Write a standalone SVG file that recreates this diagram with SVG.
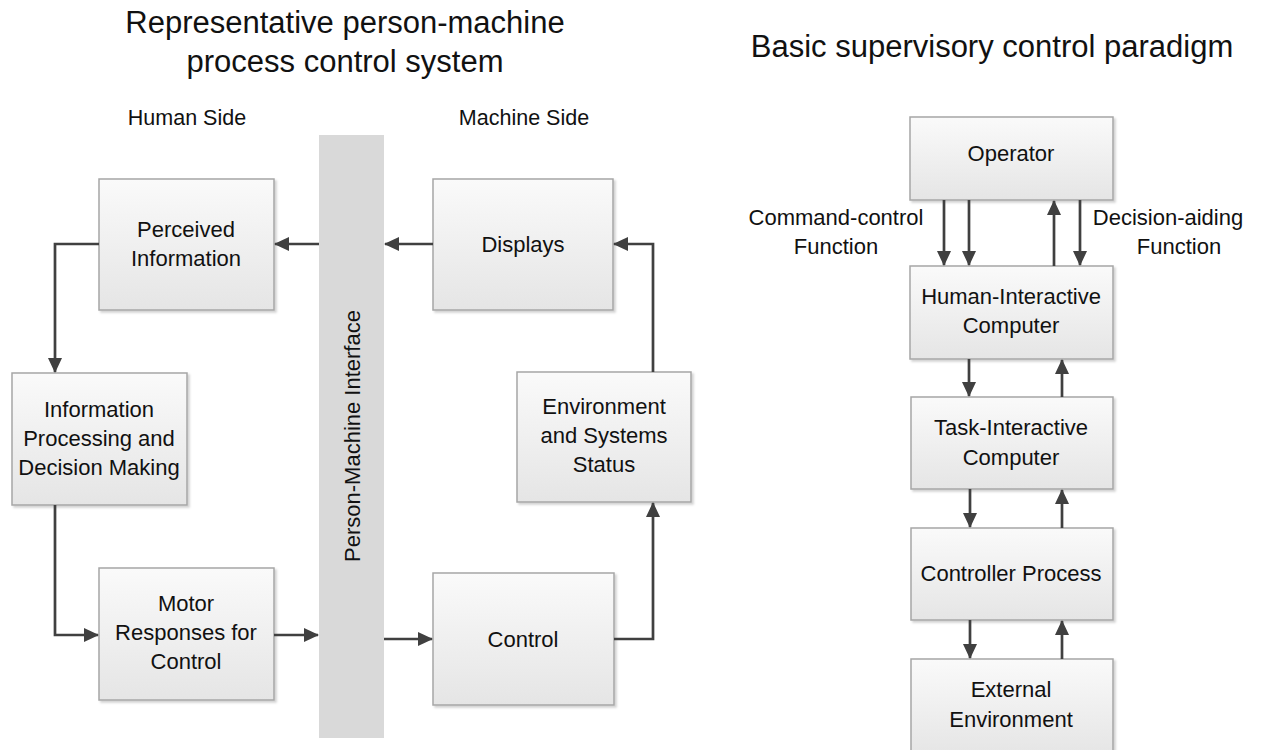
<svg xmlns="http://www.w3.org/2000/svg" width="1265" height="750" viewBox="0 0 1265 750">
<style>
text{font-family:"Liberation Sans","DejaVu Sans",sans-serif;fill:#111;text-anchor:middle}
.t{font-size:31px}
.h{font-size:21.5px}
.n{font-size:22px}
.box{fill:url(#g);stroke:#a6a6a6;stroke-width:1.5;filter:url(#sh)}
.c{fill:none;stroke:#404040;stroke-width:2.7;marker-end:url(#a)}
</style>
<defs>
<linearGradient id="g" x1="0" y1="0" x2="0" y2="1"><stop offset="0" stop-color="#fafafa"/><stop offset="1" stop-color="#e5e5e5"/></linearGradient>
<filter id="sh" x="-5%" y="-5%" width="115%" height="115%"><feDropShadow dx="2" dy="2" stdDeviation="1.2" flood-color="#000" flood-opacity="0.18"/></filter>
<marker id="a" viewBox="0 0 15 14" refX="14" refY="7" markerWidth="15" markerHeight="14" markerUnits="userSpaceOnUse" orient="auto"><path d="M0,0 L15,7 L0,14 z" fill="#404040"/></marker>
</defs>
<rect width="1265" height="750" fill="#fff"/>
<text class="t" x="345" y="33">Representative person-machine</text>
<text class="t" x="345" y="72">process control system</text>
<text class="t" x="992" y="57">Basic supervisory control paradigm</text>
<text class="h" x="187" y="125">Human Side</text>
<text class="h" x="524" y="125">Machine Side</text>
<g id="pmi"><rect x="319" y="135" width="65" height="603" fill="#d9d9d9"/><text class="n" transform="translate(360,436) rotate(-90)">Person-Machine Interface</text></g>
<g id="perceived"><rect class="box" x="99" y="179" width="175" height="131"/><text class="n" x="186" y="237">Perceived</text><text class="n" x="186" y="266">Information</text></g>
<g id="infoproc"><rect class="box" x="12" y="373" width="175" height="132"/><text class="n" x="99" y="417">Information</text><text class="n" x="99" y="446">Processing and</text><text class="n" x="99" y="475">Decision Making</text></g>
<g id="motor"><rect class="box" x="99" y="568" width="175" height="132"/><text class="n" x="186" y="611">Motor</text><text class="n" x="186" y="640">Responses for</text><text class="n" x="186" y="669">Control</text></g>
<g id="displays"><rect class="box" x="433" y="179" width="180" height="131"/><text class="n" x="523" y="252">Displays</text></g>
<g id="envstatus"><rect class="box" x="517" y="372" width="174" height="130"/><text class="n" x="604" y="414">Environment</text><text class="n" x="604" y="443">and Systems</text><text class="n" x="604" y="472">Status</text></g>
<g id="control"><rect class="box" x="433" y="573" width="181" height="132"/><text class="n" x="523" y="647">Control</text></g>
<g id="operator"><rect class="box" x="910" y="117" width="203" height="83"/><text class="n" x="1011" y="161">Operator</text></g>
<g id="hic"><rect class="box" x="910" y="266" width="203" height="93"/><text class="n" x="1011" y="304">Human-Interactive</text><text class="n" x="1011" y="333">Computer</text></g>
<g id="tic"><rect class="box" x="911" y="397" width="202" height="92"/><text class="n" x="1011" y="435">Task-Interactive</text><text class="n" x="1011" y="465">Computer</text></g>
<g id="cproc"><rect class="box" x="911" y="528" width="202" height="92"/><text class="n" x="1011" y="581">Controller Process</text></g>
<g id="extenv"><rect class="box" x="911" y="659" width="202" height="96"/><text class="n" x="1011" y="697">External</text><text class="n" x="1011" y="727">Environment</text></g>
<g id="labels"><text class="n" x="836" y="225">Command-control</text><text class="n" x="836" y="254">Function</text><text class="n" x="1168" y="225">Decision-aiding</text><text class="n" x="1179" y="254">Function</text></g>
<g id="connectors">
<path class="c" d="M319,244 H275"/>
<path class="c" d="M433,244 H385"/>
<path class="c" d="M99,244 H55 V372"/>
<path class="c" d="M55,505 V635 H98"/>
<path class="c" d="M274,635 H318"/>
<path class="c" d="M384,639 H432"/>
<path class="c" d="M614,639 H653 V503"/>
<path class="c" d="M653,372 V244 H614"/>
<path class="c" d="M944,200 V265"/>
<path class="c" d="M969,200 V265"/>
<path class="c" d="M1054,266 V201"/>
<path class="c" d="M1080,200 V265"/>
<path class="c" d="M969,359 V396"/>
<path class="c" d="M1062,397 V360"/>
<path class="c" d="M970,489 V527"/>
<path class="c" d="M1062,528 V490"/>
<path class="c" d="M970,620 V658"/>
<path class="c" d="M1062,659 V621"/>
</g>
</svg>
